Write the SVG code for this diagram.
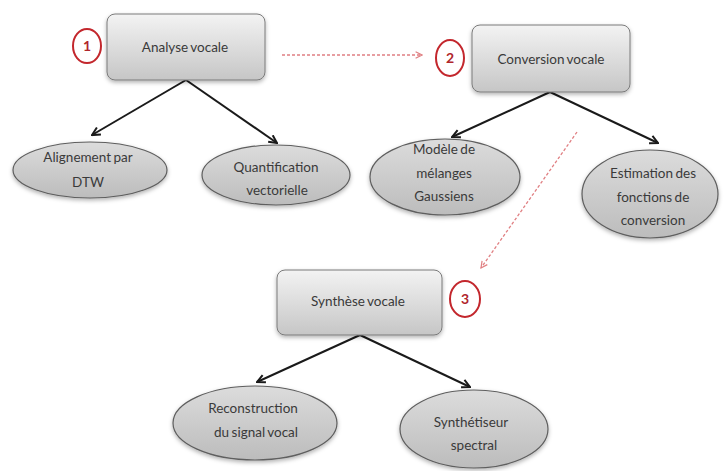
<svg xmlns="http://www.w3.org/2000/svg" width="728" height="471" viewBox="0 0 728 471">
<defs>
<linearGradient id="boxg" x1="0" y1="0" x2="0" y2="1">
<stop offset="0" stop-color="#f3f3f3"/>
<stop offset="1" stop-color="#c6c6c6"/>
</linearGradient>
<linearGradient id="ellg" x1="0" y1="0" x2="0" y2="1">
<stop offset="0" stop-color="#dcdcdc"/>
<stop offset="1" stop-color="#bcbcbc"/>
</linearGradient>
<filter id="sh" x="-20%" y="-20%" width="140%" height="150%">
<feDropShadow dx="0" dy="2" stdDeviation="2" flood-color="#000" flood-opacity="0.3"/>
</filter>
<marker id="ah" viewBox="0 0 10 10" refX="9" refY="5" markerWidth="10" markerHeight="10" markerUnits="userSpaceOnUse" orient="auto">
<path d="M1,1 L9,5 L1,9" fill="none" stroke="#1a1a1a" stroke-width="2"/>
</marker>
<marker id="rah" viewBox="0 0 10 10" refX="9" refY="5" markerWidth="8" markerHeight="8" markerUnits="userSpaceOnUse" orient="auto">
<path d="M1,1 L9,5 L1,9" fill="none" stroke="#e07f82" stroke-width="1.5"/>
</marker>
</defs>
<style>
.box{fill:url(#boxg);stroke:#7a7a7a;stroke-width:1;filter:url(#sh)}
.ell{fill:url(#ellg);stroke:#5e5e5e;stroke-width:1.2;filter:url(#sh)}
.t{font-family:Lato,"Open Sans",sans-serif;font-size:13.5px;fill:#3a3a3a;text-anchor:middle;word-spacing:-1px}
.num{fill:#ffffff;stroke:#c3272d;stroke-width:2}
.nt{font-family:Lato,"Open Sans",sans-serif;font-size:14px;font-weight:bold;fill:#b0262c;text-anchor:middle}
.c{stroke:#1a1a1a;stroke-width:2;fill:none;marker-end:url(#ah)}
.r{stroke:#e07f82;stroke-width:1.3;fill:none;stroke-dasharray:3 2;marker-end:url(#rah)}
</style>
<rect width="728" height="471" fill="#ffffff"/>
<g id="connectors">
<line class="c" x1="186" y1="80" x2="92" y2="135"/>
<line class="c" x1="186" y1="80" x2="277" y2="143"/>
<line class="c" x1="550" y1="92" x2="452" y2="137"/>
<line class="c" x1="550" y1="92" x2="658" y2="143"/>
<line class="c" x1="360" y1="335" x2="257" y2="382"/>
<line class="c" x1="360" y1="335" x2="470" y2="387"/>
<line class="r" x1="282" y1="55" x2="422" y2="55"/>
<line class="r" x1="577" y1="132" x2="481" y2="268"/>
</g>
<g id="n1">
<rect class="box" x="107" y="14" width="158" height="66" rx="8"/>
<text class="t" x="185" y="52">Analyse vocale</text>
</g>
<g id="m1">
<ellipse class="num" cx="87" cy="46" rx="14" ry="17"/>
<text class="nt" x="87" y="51">1</text>
</g>
<g id="n2">
<rect class="box" x="472" y="25" width="158" height="67" rx="8"/>
<text class="t" x="551" y="64">Conversion vocale</text>
</g>
<g id="m2">
<ellipse class="num" cx="450" cy="58" rx="14" ry="18"/>
<text class="nt" x="450" y="63">2</text>
</g>
<g id="n3">
<rect class="box" x="277" y="270" width="165" height="65" rx="8"/>
<text class="t" x="358" y="306">Synthèse vocale</text>
</g>
<g id="m3">
<ellipse class="num" cx="465" cy="299" rx="15" ry="18"/>
<text class="nt" x="465" y="304">3</text>
</g>
<g id="e1">
<ellipse class="ell" cx="90" cy="170" rx="77" ry="28"/>
<text class="t" x="88" y="162">Alignement par</text>
<text class="t" x="88" y="187">DTW</text>
</g>
<g id="e2">
<ellipse class="ell" cx="276" cy="175" rx="74" ry="30"/>
<text class="t" x="276" y="172">Quantification</text>
<text class="t" x="277" y="195">vectorielle</text>
</g>
<g id="e3">
<ellipse class="ell" cx="445" cy="177" rx="75" ry="38"/>
<text class="t" x="444" y="154">Modèle de</text>
<text class="t" x="444" y="178">mélanges</text>
<text class="t" x="444" y="201">Gaussiens</text>
</g>
<g id="e4">
<ellipse class="ell" cx="650" cy="194" rx="68" ry="44"/>
<text class="t" x="653" y="178">Estimation des</text>
<text class="t" x="653" y="202">fonctions de</text>
<text class="t" x="653" y="225">conversion</text>
</g>
<g id="e5">
<ellipse class="ell" cx="255" cy="423" rx="82" ry="37"/>
<text class="t" x="253" y="413">Reconstruction</text>
<text class="t" x="256" y="437">du signal vocal</text>
</g>
<g id="e6">
<ellipse class="ell" cx="474" cy="429" rx="74" ry="39"/>
<text class="t" x="471" y="427">Synthétiseur</text>
<text class="t" x="474" y="450">spectral</text>
</g>
</svg>
